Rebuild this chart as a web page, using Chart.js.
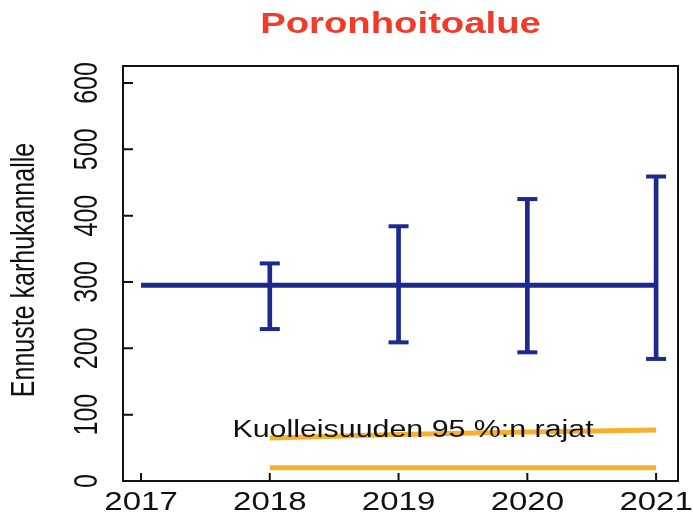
<!DOCTYPE html>
<html lang="fi">
<head>
  <meta charset="UTF-8">
  <title>Poronhoitoalue</title>
  <script src="https://cdn.jsdelivr.net/npm/chart.js"></script>
  <style>
    body {
      margin: 0;
      background: #ffffff;
    }
    #chart {
      display: block;
    }
  </style>
</head>
<body>

  <canvas id="chart" width="693" height="517"></canvas>

  <script>
    const years = [2017, 2018, 2019, 2020, 2021];
    const yTicks = [0, 100, 200, 300, 400, 500, 600];
    const meanValues = [295, 295, 295, 295, 295];
    const ciYears = [2018, 2019, 2020, 2021];
    const ciLower = [229, 209, 194, 184];
    const ciUpper = [328, 384, 425, 459];
    const mortalityUpper = [65, 70, 74, 77];
    const mortalityLower = [20, 20, 20, 20];

    const titleText = 'Poronhoitoalue';
    const yTitle = 'Ennuste karhukannalle';
    const noteText = 'Kuolleisuuden 95 %:n rajat';

    const navy = '#1b2a8c';
    const amber = '#f6b02e';
    const stretch = 1.32;

    // text in the picture is a bit wider than normal, so scale it sideways
    function drawText(ctx, text, x, y, font, color, align, rotated) {
      ctx.save();
      ctx.translate(x, y);
      if (rotated) {
        ctx.rotate(-Math.PI / 2);
        ctx.scale(1, stretch);
      } else {
        ctx.scale(stretch, 1);
      }
      ctx.font = font;
      ctx.fillStyle = color;
      ctx.textAlign = align;
      ctx.textBaseline = rotated ? 'middle' : 'alphabetic';
      ctx.fillText(text, 0, 0);
      ctx.restore();
    }

    const framePlugin = {
      id: 'frame',
      beforeDatasetsDraw(chart) {
        const ctx = chart.ctx;
        const a = chart.chartArea;
        const xs = chart.scales.x;
        const ys = chart.scales.y;
        ctx.save();
        ctx.strokeStyle = '#111111';
        ctx.lineWidth = 2;
        ctx.strokeRect(a.left, a.top, a.right - a.left, a.bottom - a.top);
        ctx.beginPath();
        yTicks.forEach(v => {
          const py = ys.getPixelForValue(v);
          ctx.moveTo(a.left, py);
          ctx.lineTo(a.left + 10, py);
        });
        years.forEach(v => {
          const px = xs.getPixelForValue(v);
          ctx.moveTo(px, a.bottom);
          ctx.lineTo(px, a.bottom - 8);
        });
        ctx.stroke();
        ctx.restore();
      },
      afterDatasetsDraw(chart) {
        const ctx = chart.ctx;
        const a = chart.chartArea;
        const xs = chart.scales.x;
        const ys = chart.scales.y;
        const f = '25px "Liberation Sans", Arial, sans-serif';

        drawText(ctx, titleText, (a.left + a.right) / 2, 33,
          'bold 29px "Liberation Sans", Arial, sans-serif', '#f03a2a', 'center', false);

        years.forEach(v => {
          drawText(ctx, String(v), xs.getPixelForValue(v), 510, f, '#111111', 'center', false);
        });
        yTicks.forEach(v => {
          drawText(ctx, String(v), 88, ys.getPixelForValue(v), f, '#111111', 'center', true);
        });
        drawText(ctx, yTitle, 25, 270, f, '#111111', 'center', true);

        drawText(ctx, noteText, xs.getPixelForValue(2017.71), ys.getPixelForValue(66),
          '23px "Liberation Sans", Arial, sans-serif', '#111111', 'left', false);
      }
    };

    new Chart(document.getElementById('chart'), {
      type: 'line',
      data: {
        datasets: [
          {
            label: 'Kuolleisuus ylä',
            data: ciYears.map((x, i) => ({ x: x, y: mortalityUpper[i] })),
            borderColor: amber,
            borderWidth: 5,
            pointRadius: 0,
            tension: 0.3
          },
          {
            label: 'Kuolleisuus ala',
            data: ciYears.map((x, i) => ({ x: x, y: mortalityLower[i] })),
            borderColor: amber,
            borderWidth: 5,
            pointRadius: 0
          },
          {
            label: 'Ennuste',
            data: years.map((x, i) => ({ x: x, y: meanValues[i] })),
            borderColor: navy,
            borderWidth: 5,
            pointRadius: 0
          },
          {
            type: 'bar',
            label: 'Luottamusväli',
            data: ciYears.map((x, i) => ({ x: x, y: [ciLower[i], ciUpper[i]] })),
            backgroundColor: navy,
            barThickness: 4
          },
          {
            type: 'scatter',
            label: 'Ylä',
            data: ciYears.map((x, i) => ({ x: x, y: ciUpper[i] })),
            pointStyle: 'line',
            pointRadius: 10,
            borderColor: navy,
            borderWidth: 4
          },
          {
            type: 'scatter',
            label: 'Ala',
            data: ciYears.map((x, i) => ({ x: x, y: ciLower[i] })),
            pointStyle: 'line',
            pointRadius: 10,
            borderColor: navy,
            borderWidth: 4
          }
        ]
      },
      options: {
        responsive: false,
        animation: false,
        layout: {
          padding: { left: 123, right: 15, top: 66, bottom: 36 }
        },
        plugins: {
          legend: { display: false },
          tooltip: { enabled: false }
        },
        scales: {
          x: { type: 'linear', min: 2016.86, max: 2021.17, offset: false, display: false },
          y: { type: 'linear', min: 0, max: 625.6, display: false }
        }
      },
      plugins: [framePlugin]
    });
  </script>

</body>
</html>
